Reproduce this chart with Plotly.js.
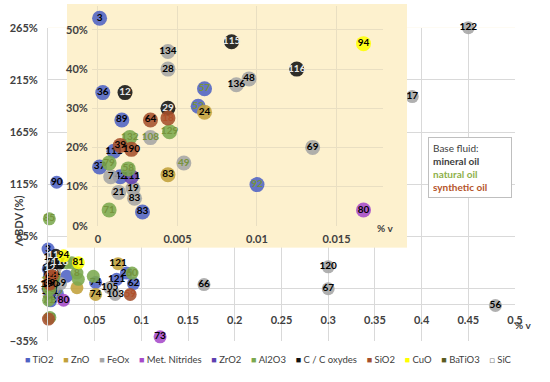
<!DOCTYPE html>
<html><head><meta charset="utf-8">
<script src="https://cdn.plot.ly/plotly-3.0.1.min.js"></script>
<style>html,body{margin:0;padding:0;background:#fff}#chart{width:550px;height:382px}</style>
</head><body><div id="chart"></div>
<script>
// ---- data ----
const refs = ['3','36','12','134','28','115','116','136','48','94','57','52','24','29','64','18','129','108','132','89','39','190','111','79','37','7','42','111','58','49','83','21','19','83','71','83','92','69','80',
  '122','17','90','85','120','67','66','56','73','121','25','60','121','62','105','103','59','74','74','','42','','','','81','8','','',''];
const vol = [0.0001,0.0003,0.0017,0.0044,0.0044,0.0084,0.0125,0.0087,0.0095,0.0167,0.0067,0.0063,0.0067,0.0044,0.0033,0.0044,0.0045,0.0033,0.002,0.0015,0.0014,0.0021,0.001,0.0007,0.0001,0.0008,0.0014,0.0021,0.0019,0.0054,0.0044,0.0013,0.0022,0.0023,0.0007,0.0028,0.01,0.0135,0.0167,
  0.45,0.39,0.0093,0.0014,0.30,0.30,0.167,0.479,0.12,0.075,0.084,0.09,0.0735,0.0915,0.066,0.072,0.088,0.051,0.051,0.0485,0.002,0.0005,0.02,0.0255,0.0325,0.031,0.02,0.0325,0.031];
const dbdv = [53,34,34,44.5,40,47,40,36,37.5,46.5,35,30.5,29,30,27,27.5,24,22.5,22.5,27,20.5,19.5,19,16,15,12.5,12.5,12.5,14.5,16,13,8.5,9.5,7,4,3.5,10.5,20,4,
  265,199,117,82,36,15,19,-1,-31,39,30,30,24,20,16,9.5,9.5,9.5,21,27,-12.5,-14,40,40,40,30,27,24,16];
const material = ['TiO2','TiO2','C / C oxydes','FeOx','FeOx','C / C oxydes','C / C oxydes','FeOx','FeOx','CuO','TiO2','TiO2','ZnO','C / C oxydes','SiO2','SiO2','Al2O3','FeOx','Al2O3','TiO2','SiO2','SiO2','TiO2','Al2O3','TiO2','FeOx','TiO2','ZrO2','Al2O3','FeOx','ZnO','FeOx','FeOx','FeOx','Al2O3','TiO2','TiO2','FeOx','Met. Nitrides',
  'FeOx','FeOx','TiO2','Al2O3','FeOx','FeOx','FeOx','FeOx','Met. Nitrides','ZnO','TiO2','Al2O3','TiO2','TiO2','FeOx','FeOx','SiO2','ZnO','TiO2','Al2O3','Al2O3','SiO2','Al2O3','Al2O3','CuO','Al2O3','TiO2','Al2O3','ZnO'];
const fluid = ['m','m','m','m','m','m','m','m','m','m','n','n','m','m','m','s','n','n','n','m','m','m','m','n','m','m','m','m','n','n','m','m','m','m','n','m','n','m','m',
  'm','m','m','n','m','m','m','m','m','m','m','n','m','m','m','m','s','m','m','n','n','s','n','n','m','n','n','n','m'];
const materials = ['TiO2','ZnO','FeOx','Met. Nitrides','ZrO2','Al2O3','C / C oxydes','SiO2','CuO','BaTiO3','SiC'];
const mainXTicks = [0.05,0.1,0.15,0.2,0.25,0.3,0.35,0.4,0.45,0.5];
const insetXTicks = [0,0.005,0.01,0.015];
const fluidNames = ['Base fluid:','mineral oil','natural oil','synthetic oil'];

// ---- styles ----
const matColor = {'TiO2':'#4F62C4','ZnO':'#C1A03A','FeOx':'#A5A5A5','Met. Nitrides':'#A64AC9','ZrO2':'#5E3FB0',
  'Al2O3':'#7BA84E','C / C oxydes':'#111111','SiO2':'#A5502C','CuO':'#FFFF00','BaTiO3':'#5B5B1F','SiC':'#FFFFFF'};
const fluidColor = {m:'#000000', n:'#76933C', s:'#B0502A'};
const FONT = 'Lato, "Open Sans", sans-serif';
const insetX = [-0.000377, 0.017925], insetY = [0, 56];

const traces = [];
// empty frame subplot (yellow inset background)
traces.push({x:[null], y:[null], xaxis:'x2', yaxis:'y2', mode:'markers', showlegend:false, hoverinfo:'skip'});
materials.forEach(m => {
  const all = material.map((v,i)=>v===m?i:-1).filter(i=>i>=0);
  if (!all.length) return;
  const inInset = all.filter(i => vol[i] <= insetX[1] && dbdv[i] >= insetY[0] && dbdv[i] <= insetY[1]);
  [['x','y',13,all,false],['x3','y3',15,inInset,true]].forEach(([xa,ya,sz,idx,clip]) => {
    if (!idx.length) return;
    traces.push({
      type:'scatter', mode:'markers+text', x:idx.map(i=>vol[i]), y:idx.map(i=>dbdv[i]), text:idx.map(i=>refs[i]),
      xaxis:xa, yaxis:ya, textposition:'middle center', cliponaxis:clip, showlegend:false, name:m,
      marker:{size:sz, color:matColor[m], opacity:0.88, line:{width: m==='SiC'?1:0, color:'#7F7F7F'}},
      textfont:{family:FONT, size:10, weight:'bold',
        color:idx.map(i => m==='C / C oxydes' ? '#E8E8E8' : fluidColor[fluid[i]])}
    });
  });
});

// layout geometry (pixels -> paper fractions)
const L=48, R=515, T=4, B=341.5, W=R-L, H=B-T;
const px = v => (v-L)/W, py = v => (B-v)/H;

const ann = [];
ann.push({xref:'paper', yref:'paper', x:px(10), y:py(222), text:'<b>Λ BDV (%)</b>', textangle:-90, showarrow:false,
  font:{family:FONT, size:11, color:'#404040'}});
ann.push({xref:'paper', yref:'paper', x:px(533), y:py(333), text:'<b>% v</b>', showarrow:false, font:{family:FONT, size:10, color:'#404040'}});
ann.push({xref:'paper', yref:'paper', x:px(395), y:py(236), text:'<b>% v</b>', showarrow:false, font:{family:FONT, size:10, color:'#404040'}});
ann.push({xref:'paper', yref:'paper', x:px(428), y:py(137), xanchor:'left', yanchor:'top', align:'left', showarrow:false,
  text: fluidNames[0] + '<br><b>' + fluidNames[1] + '</b><br><span style="color:#8DB04A"><b>' + fluidNames[2] +
        '</b></span><br><span style="color:#B5542A"><b>' + fluidNames[3] + '</b></span>',
  font:{family:FONT, size:10, color:'#404040'}, bgcolor:'#FFFFFF', bordercolor:'#BFBFBF', borderwidth:1, borderpad:4, width:74});
// legend row (one line of text with coloured squares)
const legendText = materials.map(m => {
  const sq = m==='SiC' ? '<span style="color:#7F7F7F;font-size:9px">□</span>'
                       : '<span style="color:'+matColor[m]+';font-size:9px">■</span>';
  return sq + ' ' + m;
}).join('&nbsp;&nbsp;&nbsp;&nbsp;');
ann.push({xref:'paper', yref:'paper', x:px(268), y:py(360), xanchor:'center', yanchor:'middle', showarrow:false,
  text: legendText, font:{family:FONT, size:9.5, color:'#404040'}});

const tickFont = {family:FONT, size:11, color:'#404040', weight:'bold'};
const layout = {
  width:550, height:382,
  margin:{l:L, r:550-R, t:T, b:382-B},
  paper_bgcolor:'#FFFFFF', plot_bgcolor:'#FDF1CE',
  showlegend:false,
  font:{family:FONT},
  xaxis:{domain:[0,1], range:[0,0.5], anchor:'free', position:py(305.7), tickvals:mainXTicks, ticktext:mainXTicks.map(String),
    showgrid:true, gridcolor:'#D9D9D9', zeroline:false, showline:false, ticks:'outside', ticklen:5, tickcolor:'rgba(0,0,0,0)',
    tickfont:tickFont},
  yaxis:{domain:[0, py(27.7)], range:[-35,265], tick0:-35, dtick:50, ticksuffix:'%', anchor:'x',
    showgrid:true, gridcolor:'#D9D9D9', zeroline:true, zerolinecolor:'#D9D9D9', zerolinewidth:1,
    showline:true, linecolor:'#D9D9D9', ticks:'outside', ticklen:7, tickcolor:'rgba(0,0,0,0)', tickfont:tickFont},
  xaxis2:{domain:[px(67), px(407)], anchor:'y2', range:[0,1], visible:false, showgrid:false, zeroline:false},
  yaxis2:{domain:[py(248), 1], anchor:'x2', range:[0,1], visible:false, showgrid:false, zeroline:false},
  xaxis3:{domain:[px(92), px(383)], anchor:'y3', range:insetX, tickvals:insetXTicks, ticktext:insetXTicks.map(String),
    showgrid:true, gridcolor:'#E9DFC2', zeroline:false, showline:false, ticks:'outside', ticklen:3, tickcolor:'rgba(0,0,0,0)', tickfont:tickFont},
  yaxis3:{domain:[py(226), py(6.5)], anchor:'x3', range:insetY, dtick:10, ticksuffix:'%',
    showgrid:true, gridcolor:'#E9DFC2', zeroline:false, showline:false, ticks:'outside', ticklen:1, tickcolor:'rgba(0,0,0,0)', tickfont:tickFont},
  shapes:[{type:'rect', xref:'paper', yref:'paper', x0:0, x1:1, y0:0, y1:py(27.7), fillcolor:'#FFFFFF', line:{width:0}, layer:'below'}],
  annotations: ann
};
Plotly.newPlot('chart', traces, layout, {staticPlot:true, displayModeBar:false});
</script></body></html>
